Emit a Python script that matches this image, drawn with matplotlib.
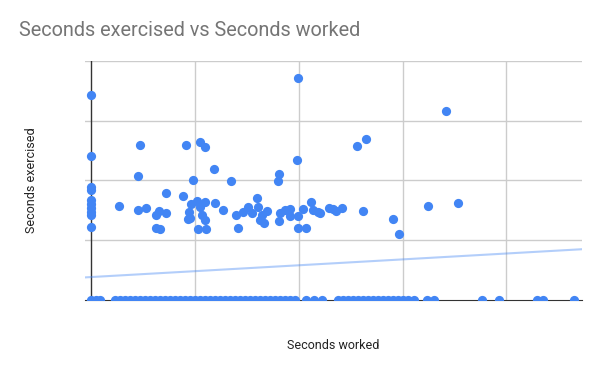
import matplotlib.pyplot as plt
import numpy as np

plt.rcParams['font.family'] = ['Roboto', 'DejaVu Sans']

# points with some exercise (x = seconds worked, y = seconds exercised)
worked = [0, 0, 0, 0, 0, 0, 0, 0, 0, 0,
          1350, 2235, 2264, 2336, 2620, 3117, 3261, 3598, 3598, 3117,
          3309, 4408, 4562, 4672, 4721, 4803, 4913, 5116, 5236, 5236,
          5318, 5477, 5477, 5477, 5154, 5525, 4754, 5911, 5944, 6330,
          6753, 6970, 7076, 7322, 7563, 7727, 7967, 8044, 8208, 8126,
          8319, 8449, 9027, 9003, 9056, 9090, 9331, 9571, 9571, 9894,
          9957, 9971, 10183, 9957, 10357, 10573, 10665, 10935, 11017, 11464,
          11657, 11787, 12062, 12784, 13232, 13102, 14547, 14822, 16205, 17664,
          17086]
exercised = [3433, 2416, 1889, 1839, 1672, 1605, 1538, 1471, 1421, 1221,
             1568, 2068, 1501, 2588, 1543, 1421, 1488, 1451, 1789, 1212,
             1192, 1734, 2595, 1363, 1480, 1605, 2011, 1664, 2637, 1558,
             1421, 2553, 1647, 1343, 1195, 1195, 1376, 2195, 1622, 1513,
             1995, 1426, 1200, 1471, 1550, 1450, 1700, 1560, 1421, 1338,
             1292, 1488, 2115, 1986, 1326, 1460, 1505, 1517, 1404, 2344,
             3717, 1404, 1517, 1200, 1199, 1642, 1512, 1476, 1460, 1538,
             1527, 1493, 1538, 2575, 2687, 1483, 1359, 1104, 1577, 1627,
             3165]

# days with no exercise (y = 0)
worked_zero = [0, 226, 443, 1140, 1390, 1620, 1850, 2100, 2350, 2590,
               2840, 3070, 3300, 3550, 3790, 4040, 4270, 4510, 4760, 5000,
               5230, 5480, 5720, 5970, 6200, 6440, 6690, 6920, 7170, 7400,
               7650, 7890, 8130, 8380, 8610, 8850, 9090, 9340, 9580, 9820,
               10340, 10730, 11110, 11880, 12120, 12360, 12610, 12850, 13090, 13330,
               13570, 13810, 14050, 14290, 14530, 14770, 15020, 15260, 15540, 16170,
               16510, 18820, 19640, 21480, 21770, 23260]

# linear trendline: intercept, slope
trend_intercept = 384
trend_slope = 0.0197

fig = plt.figure(figsize=(6, 3.71), dpi=100)
ax = fig.add_axes([0.1417, 0.1914, 0.8283, 0.6442])

ax.set_xlim(-300, 23640)
ax.set_ylim(0, 4000)
ax.set_xticks([5000, 10000, 15000, 20000])
ax.set_yticks([1000, 2000, 3000, 4000])
ax.tick_params(length=0, labelbottom=False, labelleft=False)
ax.grid(True, color='#cccccc', linewidth=1)
ax.set_axisbelow(True)
for s in ['top', 'right', 'left']:
    ax.spines[s].set_visible(False)
ax.spines['bottom'].set_color('#333333')
ax.axvline(0, color='#333333', linewidth=1, zorder=1)

tx = np.array(ax.get_xlim())
ax.plot(tx, trend_intercept + trend_slope * tx, color='#4285F4', alpha=0.4,
        linewidth=1.5, zorder=2)

ax.scatter(worked_zero, [0] * len(worked_zero), s=44, color='#4285F4',
           linewidths=0, zorder=3)
ax.scatter(worked, exercised, s=44, color='#4285F4', linewidths=0, zorder=3)

fig.text(0.032, 0.918, 'Seconds exercised vs Seconds worked', fontsize=14.3,
         color='#757575', va='center', ha='left')
fig.text(0.556, 0.07, 'Seconds worked', fontsize=9, color='#222222',
         ha='center', va='center')
fig.text(0.052, 0.513, 'Seconds exercised', fontsize=9, color='#222222',
         ha='center', va='center', rotation=90)

fig.savefig('out.png', dpi=100)
